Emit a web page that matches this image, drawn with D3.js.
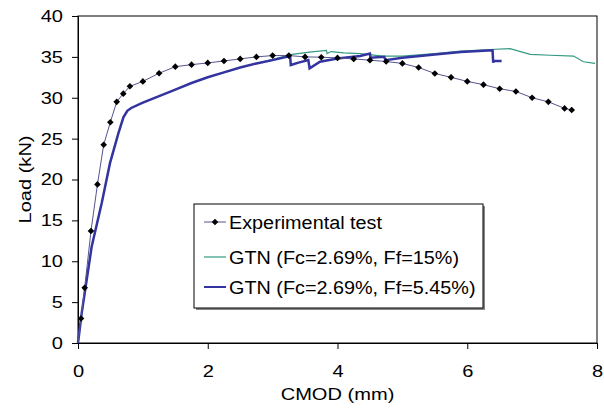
<!DOCTYPE html>
<html><head><meta charset="utf-8">
<script src="https://cdn.jsdelivr.net/npm/d3@7"></script>
<style>
body{margin:0;background:#fff;}
text{font-family:"Liberation Sans",Arial,sans-serif;fill:#000;}
</style></head>
<body><svg id="c" width="604" height="409"></svg>
<script>
// Experimental test (CMOD mm, Load kN)
const expX = [0,0.046,0.103,0.20,0.30,0.396,0.498,0.597,0.698,0.80,1.0,1.25,1.50,1.75,2.0,2.25,2.5,2.75,3.0,3.25,3.5,3.75,4.0,4.25,4.5,4.75,5.0,5.25,5.5,5.75,6.0,6.25,6.5,6.75,7.0,7.25,7.5,7.61];
const expY = [0,3.0,6.75,13.7,19.4,24.25,27.0,29.5,30.5,31.4,32.0,33.0,33.8,34.05,34.26,34.5,34.75,35.0,35.16,35.16,35.0,34.96,34.87,34.75,34.6,34.43,34.2,33.7,32.97,32.5,32.0,31.6,31.1,30.77,30.0,29.5,28.7,28.5];
// GTN Fc=2.69%, Ff=5.45%
const gtn545X = [0,0.057,0.211,0.365,0.493,0.621,0.70,0.76,0.82,1.0,1.25,1.5,1.75,2.0,2.25,2.5,2.75,3.0,3.27,3.28,3.4,3.55,3.57,3.73,4.0,4.35,4.5,4.51,4.72,4.74,5.0,5.5,5.9,6.39,6.40,6.41,6.53];
const gtn545Y = [0,3.66,11.8,17.1,22.0,25.6,27.6,28.4,28.75,29.4,30.2,31.0,31.8,32.5,33.1,33.7,34.2,34.6,35.1,34.0,34.3,34.6,33.6,34.4,34.8,35.1,35.4,34.9,35.0,34.6,34.9,35.3,35.6,35.8,34.3,34.5,34.5];
// GTN Fc=2.69%, Ff=15%
const gtn15X = [0,0.057,0.211,0.365,0.493,0.621,0.70,0.76,0.82,1.0,1.25,1.5,1.75,2.0,2.25,2.5,2.75,3.0,3.3,3.6,3.83,3.84,3.9,4.1,4.35,4.7,5.0,5.5,5.9,6.35,6.66,6.97,7.28,7.64,7.79,7.97];
const gtn15Y = [0,3.66,11.8,17.1,22.0,25.6,27.6,28.4,28.75,29.4,30.2,31.0,31.8,32.5,33.1,33.7,34.2,34.7,35.3,35.6,35.8,35.4,35.65,35.5,35.4,35.1,35.1,35.4,35.7,35.9,36.0,35.3,35.2,35.1,34.4,34.2];
const xTicks = [0,2,4,6,8];
const yTicks = [0,5,10,15,20,25,30,35,40];
const legendLabels = ["Experimental test","GTN (Fc=2.69%, Ff=15%)","GTN (Fc=2.69%, Ff=5.45%)"];

const W=604,H=409, m={l:78,r:7,t:16,b:66};
const svg=d3.select("#c");
const x=d3.scaleLinear().domain([0,8]).range([m.l,W-m.r]);
const y=d3.scaleLinear().domain([0,40]).range([H-m.b,m.t]);

function widen(sel,k){sel.each(function(){const L=this.getComputedTextLength();
  d3.select(this).attr("textLength",L*k).attr("lengthAdjust","spacingAndGlyphs");});}

// frame
svg.append("rect").attr("x",x(0)).attr("y",y(40)).attr("width",x(8)-x(0)).attr("height",y(0)-y(40))
  .attr("fill","none").attr("stroke","#000").attr("stroke-width",1);

const xa=svg.append("g").attr("transform",`translate(0,${y(0)})`)
  .call(d3.axisBottom(x).tickValues(xTicks).tickSize(6).tickPadding(16).tickFormat(d3.format("d")));
const ya=svg.append("g").attr("transform",`translate(${x(0)},0)`)
  .call(d3.axisLeft(y).tickValues(yTicks).tickSize(6).tickPadding(9).tickFormat(d3.format("d")));
[xa,ya].forEach(a=>{a.selectAll("text").style("font-size","17px").attr("font-family",null);
  a.select(".domain").attr("stroke","#000");a.selectAll(".tick line").attr("stroke","#000");});
widen(xa.selectAll("text"),1.18);
widen(ya.selectAll("text"),1.18);

const xt=svg.append("text").attr("x",(x(0)+x(8))/2).attr("y",400).attr("text-anchor","middle").style("font-size","17px").text("CMOD (mm)");
const yt=svg.append("text").attr("transform",`translate(31,${(y(0)+y(40))/2}) rotate(-90)`).attr("text-anchor","middle").style("font-size","17px").text("Load (kN)");
widen(xt,1.18); widen(yt,1.18);

const line=d3.line().x(d=>x(d[0])).y(d=>y(d[1]));
const g15=gtn15X.map((v,i)=>[v,gtn15Y[i]]);
const g545=gtn545X.map((v,i)=>[v,gtn545Y[i]]);
const ex=expX.map((v,i)=>[v,expY[i]]);
const green="#339980", blue="#3434a0", navy="#55558f";
svg.append("path").datum(g15).attr("d",line).attr("fill","none").attr("stroke",green).attr("stroke-width",1.2);
svg.append("path").datum(g545).attr("d",line).attr("fill","none").attr("stroke",blue).attr("stroke-width",2.5);
svg.append("path").datum(ex).attr("d",line).attr("fill","none").attr("stroke",navy).attr("stroke-width",1);
const sym=d3.symbol(d3.symbolSquare,22);
svg.selectAll(".mk").data(ex.slice(1)).join("path").attr("class","mk")
  .attr("transform",d=>`translate(${x(d[0])},${y(d[1])}) rotate(45)`).attr("d",sym).attr("fill","#000");

// legend
const lg=svg.append("g");
const lx=194,ly=204,lw=289,lh=104;
lg.append("rect").attr("x",lx+2).attr("y",ly+2).attr("width",lw).attr("height",lh).attr("fill","#888");
lg.append("rect").attr("x",lx).attr("y",ly).attr("width",lw).attr("height",lh).attr("fill","#fff").attr("stroke","#000").attr("stroke-width",1);
const rows=[{c:navy,w:1,m:true,cy:222},{c:green,w:1.2,cy:257},{c:blue,w:2,cy:287}];
rows.forEach((r,i)=>{
  const cy=r.cy;
  lg.append("line").attr("x1",204).attr("x2",226).attr("y1",cy).attr("y2",cy).attr("stroke",r.c).attr("stroke-width",r.w);
  if(r.m) lg.append("path").attr("transform",`translate(215,${cy}) rotate(45)`).attr("d",sym).attr("fill","#000");
  const t=lg.append("text").attr("x",229).attr("y",cy+6.5).style("font-size","18px").text(legendLabels[i]);
  widen(t,1.1);
});
</script></body></html>
